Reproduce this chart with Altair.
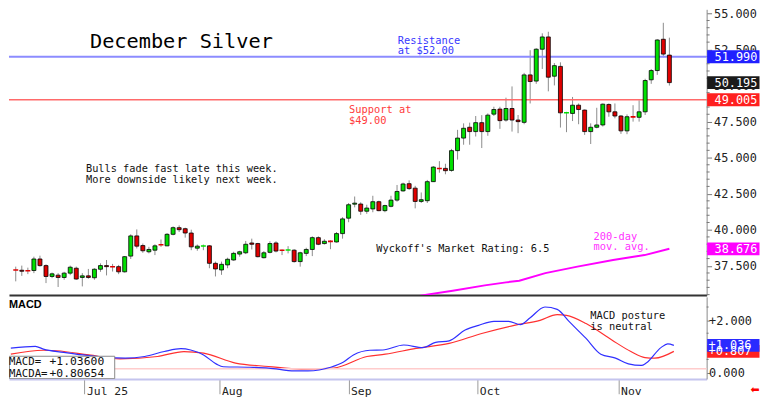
import json
import altair as alt
import pandas as pd

# ---------------- data ----------------
opens = [37.25, 37.19, 37.17, 37.17, 37.97, 37.51, 36.76, 36.85, 36.69, 36.99,
         37.33, 36.69, 36.80, 36.67, 37.26, 37.51, 37.45, 37.44, 37.08, 38.17,
         39.57, 38.90, 38.47, 38.58, 38.98, 38.88, 39.68, 40.14, 40.07, 39.77,
         38.72, 38.85, 38.88, 37.67, 37.21, 37.56, 37.90, 38.31, 38.40, 39.08,
         39.04, 38.06, 38.43, 39.08, 38.59, 38.57, 38.58, 37.79, 38.36, 38.63,
         39.45, 39.04, 39.21, 39.15, 39.73, 40.80, 41.77, 41.78, 41.28, 41.44,
         41.94, 41.32, 41.62, 42.05, 42.69, 43.19, 42.88, 41.96, 42.01, 43.33,
         44.26, 44.25, 44.11, 45.48, 46.35, 47.10, 46.80, 47.42, 46.80, 48.01,
         48.36, 47.60, 48.40, 47.60, 47.44, 50.73, 50.30, 52.51, 53.36, 50.64,
         51.32, 48.09, 48.06, 48.63, 48.29, 46.80, 47.10, 47.26, 48.68, 48.17,
         47.88, 46.85, 47.84, 47.79, 48.17, 50.39, 51.03, 53.20, 52.10]
highs = [37.44, 37.51, 37.37, 38.13, 38.20, 37.60, 37.03, 36.99, 37.08, 37.51,
         37.44, 36.99, 37.28, 37.33, 37.67, 37.90, 37.63, 37.56, 38.17, 39.68,
         40.02, 39.04, 38.81, 38.99, 39.32, 39.77, 40.23, 40.30, 40.14, 40.00,
         38.97, 38.97, 38.93, 37.79, 37.79, 38.06, 38.47, 38.54, 39.22, 39.38,
         39.09, 38.52, 39.20, 39.20, 38.63, 38.86, 38.65, 38.47, 38.75, 39.54,
         39.54, 39.34, 39.27, 39.84, 40.87, 41.85, 42.30, 41.90, 41.73, 42.35,
         42.01, 41.73, 42.35, 43.10, 43.26, 43.42, 43.04, 42.58, 43.45, 44.41,
         44.75, 44.57, 45.60, 46.92, 47.37, 47.42, 47.88, 47.94, 48.06, 48.52,
         48.52, 49.15, 49.93, 47.95, 50.87, 52.44, 52.58, 53.61, 53.72, 51.55,
         51.60, 48.17, 49.20, 48.75, 48.33, 47.37, 48.45, 48.75, 48.75, 48.75,
         47.95, 47.99, 48.63, 48.97, 50.46, 51.14, 53.20, 54.34, 53.31]
lows = [36.42, 36.80, 36.92, 36.99, 37.44, 36.30, 36.64, 36.03, 36.53, 36.85,
        36.53, 36.07, 36.60, 36.53, 37.08, 36.83, 37.10, 36.92, 37.03, 37.97,
        38.70, 38.40, 38.36, 38.24, 38.81, 38.86, 39.61, 39.84, 39.45, 38.58,
        38.54, 38.58, 37.33, 36.76, 36.87, 37.33, 37.85, 38.13, 38.31, 38.63,
        38.08, 38.01, 38.36, 38.43, 38.24, 38.36, 37.72, 37.44, 38.17, 38.17,
        38.93, 38.97, 38.65, 39.11, 39.38, 40.52, 41.55, 41.03, 41.10, 41.21,
        41.28, 41.21, 41.55, 41.94, 42.63, 42.76, 41.48, 41.85, 41.85, 43.31,
        43.95, 43.84, 44.02, 44.86, 45.89, 45.89, 46.46, 45.66, 46.51, 47.88,
        46.99, 47.49, 46.80, 46.69, 47.31, 48.75, 50.11, 51.14, 49.59, 50.00,
        47.08, 46.76, 47.53, 47.31, 46.57, 45.94, 47.03, 47.15, 47.83, 47.72,
        46.64, 46.62, 47.49, 47.49, 47.95, 50.11, 50.73, 51.94, 49.99]
closes = [37.21, 37.12, 37.15, 37.97, 37.51, 36.76, 36.94, 36.69, 36.99, 37.40,
          36.58, 36.80, 36.69, 37.26, 37.51, 37.44, 37.43, 37.08, 38.13, 39.57,
          38.86, 38.54, 38.63, 38.88, 38.96, 39.68, 40.14, 40.00, 39.77, 38.81,
          38.86, 38.87, 37.67, 37.28, 37.60, 37.95, 38.36, 38.47, 38.99, 38.99,
          38.13, 38.40, 39.04, 38.52, 38.57, 38.59, 37.79, 38.40, 38.63, 39.45,
          38.99, 39.20, 39.19, 39.73, 40.75, 41.73, 41.84, 41.28, 41.50, 41.94,
          41.32, 41.67, 42.05, 42.65, 43.17, 42.85, 41.96, 42.08, 43.33, 44.34,
          44.24, 44.09, 45.48, 46.35, 47.03, 46.80, 47.42, 46.80, 47.94, 48.33,
          47.56, 48.40, 47.60, 47.49, 50.73, 50.27, 52.51, 53.36, 50.57, 51.37,
          48.10, 48.11, 48.63, 48.33, 46.80, 47.10, 47.26, 48.70, 48.17, 47.88,
          46.85, 47.83, 47.82, 48.17, 50.34, 51.03, 53.15, 52.17, 50.195]

# 200-day moving average (candle position, price)
ma_pos = [66, 67.9, 72.2, 77.5, 81, 83.2, 87.5, 92.8, 98.7, 103.9, 108]
ma_val = [35.35, 35.50, 35.77, 36.14, 36.35, 36.46, 36.99, 37.44, 37.90, 38.24, 38.676]

# MACD (blue) and MACD average (red)
macd_pos = [0, 4, 5.3, 8.6, 11.7, 15.4, 18.6, 21.8, 25, 27.7,
            29.3, 31.4, 33.5, 34.6, 38.9, 42, 46.2, 48.4, 52.1, 54.2,
            55.8, 58.5, 60.6, 64, 67.1, 69.2, 71.4, 74, 76.2, 78.7,
            81.1, 83, 84.6, 87, 89, 91, 93.7, 96.1, 98.5, 100.6,
            102.7, 103.5, 105.9, 107, 108]
macd_val = [0.93, 1.00, 0.89, 0.77, 0.67, 0.58, 0.55, 0.61, 0.80, 0.91,
            0.86, 0.67, 0.32, 0.22, 0.20, 0.17, 0.06, 0.06, 0.20, 0.40,
            0.67, 0.85, 0.86, 1.05, 0.95, 1.15, 1.21, 1.62, 1.80, 1.95,
            1.95, 1.83, 2.09, 2.50, 2.41, 1.93, 1.30, 0.70, 0.55, 0.33,
            0.27, 0.36, 0.95, 1.09, 1.036]
sig_pos = [0, 5.3, 7.5, 12.7, 17.8, 23.9, 28.2, 31.4, 36.6, 42,
           47.3, 52.6, 58, 61, 66, 71.4, 76.7, 82, 86.2, 89,
           90.5, 93.7, 97.9, 101, 103.3, 104.9, 108]
sig_val = [0.70, 0.85, 0.83, 0.67, 0.52, 0.61, 0.80, 0.74, 0.36, 0.23,
           0.13, 0.17, 0.61, 0.70, 0.92, 1.11, 1.49, 1.80, 1.99, 2.21,
           2.18, 1.87, 1.24, 0.80, 0.57, 0.55, 0.807]

resistance = 51.99
support = 49.005
last_close = 50.195
ma_last = 38.676
macd_last = 1.036
macda_last = 0.807
macd_legend = "+1.03600"
macda_legend = "+0.80654"
macd_ref = 0.14

price_ticks = [37.5, 40.0, 42.5, 45.0, 47.5, 50.0, 52.5, 55.0]
price_minor = [35.5, 36.0, 36.5, 37.0, 38.0, 38.5, 39.0, 39.5, 40.5, 41.0, 41.5,
               42.0, 43.0, 43.5, 44.0, 44.5, 45.5, 46.0, 46.5, 47.0, 48.0, 48.5,
               49.0, 49.5, 50.5, 51.0, 51.5, 52.0, 53.0, 53.5, 54.0, 54.5]
macd_ticks = [0.0, 1.0, 2.0]
macd_minor = [0.5, 1.5, 2.5]
month_pos = [12, 34, 55, 76, 99]
month_labels = ["Jul 25", "Aug", "Sep", "Oct", "Nov"]

# ---------------- layout ----------------
W = 706
H1 = 289
H2 = 83
MONO = "DejaVu Sans Mono"

candles = pd.DataFrame({"i": range(len(opens)), "o": opens, "h": highs,
                        "l": lows, "c": closes})
candles["dir"] = ["up" if c >= o else "down" for o, c in zip(opens, closes)]
candles["body"] = (candles["c"] - candles["o"]).abs()

xs = alt.Scale(domain=[-0.3, 113.34], nice=False, zero=False)
ys = alt.Scale(domain=[35.48, 55.274], nice=False, zero=False)
ms = alt.Scale(domain=[-0.245, 2.887], nice=False, zero=False)
dir_color = alt.Color("dir:N", scale=alt.Scale(domain=["up", "down"],
                                               range=["#00e000", "#e00000"]),
                      legend=None)

# identical axis objects are given to every layer so that they merge cleanly
px_axis = alt.Axis(labels=False, ticks=False, grid=False, domainColor="#333333",
                   domainWidth=2, title=None)
py_axis = alt.Axis(orient="right", values=price_ticks, format=".3f", labelFont=MONO,
                   labelFontSize=12, labelColor="#222222", tickSize=5,
                   tickColor="#777777", domainColor="#888888", grid=False,
                   labelPadding=2, title=None)
month_expr = "{}[indexof({}, datum.value)]".format(json.dumps(month_labels),
                                                   json.dumps(month_pos))
mx_axis = alt.Axis(values=month_pos, labelExpr=month_expr, tickSize=15,
                   tickColor="#999999", labelAlign="left", labelOffset=2,
                   labelPadding=1, labelBaseline="alphabetic", labelFont=MONO,
                   labelFontSize=11.5, labelColor="#222222", domainColor="#c4c4ee",
                   domainWidth=2, grid=False, title=None)
my_axis = alt.Axis(orient="right", values=macd_ticks,
                   labelExpr="datum.value > 0 ? '+' + format(datum.value, '.3f') : format(datum.value, '.3f')",
                   labelFont=MONO, labelFontSize=12, labelColor="#222222", tickSize=3,
                   tickColor="#777777", domainColor="#888888", grid=False,
                   labelPadding=-1, title=None)

PANELS = {"p": (ys, px_axis, py_axis), "m": (ms, mx_axis, my_axis)}
one = pd.DataFrame({"k": [0]})


def X(field, panel):
    return alt.X(field, scale=xs, axis=PANELS[panel][1])


def Y(field, panel):
    return alt.Y(field, scale=PANELS[panel][0], axis=PANELS[panel][2])


def note(txt, xi, yv, panel, color, size=10.5, font=MONO, weight="normal"):
    sc, xa, ya = PANELS[panel]
    return alt.Chart(one).mark_text(
        text=txt, align="left", baseline="alphabetic", font=font,
        fontSize=size, color=color, fontWeight=weight
    ).encode(x=alt.XDatum(xi, scale=xs, axis=xa),
             y=alt.YDatum(yv, scale=sc, axis=ya))


# ---- price panel ----
wicks = alt.Chart(candles).mark_rule(color="#8a8a8a", strokeWidth=1, clip=True).encode(
    x=X("i:Q", "p"), y=Y("l:Q", "p"), y2="h:Q")
bodies = alt.Chart(candles).transform_filter("datum.body >= 0.05").mark_bar(
    width=4, stroke="black", strokeWidth=0.8, clip=True).encode(
    x=X("i:Q", "p"), y=Y("o:Q", "p"), y2="c:Q", color=dir_color)
dojis = alt.Chart(candles).transform_filter("datum.body < 0.05").mark_tick(
    orient="horizontal", size=5, thickness=1.6, opacity=1, clip=True).encode(
    x=X("i:Q", "p"), y=Y("c:Q", "p"), color=dir_color)

res_rule = alt.Chart(one).mark_rule(color="#8c8cff", strokeWidth=2).encode(
    y=alt.YDatum(resistance, scale=ys, axis=py_axis))
sup_rule = alt.Chart(one).mark_rule(color="#ff6a6a", strokeWidth=1.5).encode(
    y=alt.YDatum(support, scale=ys, axis=py_axis))

ma_df = pd.DataFrame({"i": ma_pos, "v": ma_val})
ma_line = alt.Chart(ma_df).mark_line(color="#ff00ff", strokeWidth=2, clip=True).encode(
    x=X("i:Q", "p"), y=Y("v:Q", "p"))

pminor = alt.Chart(pd.DataFrame({"t": price_minor})).mark_rule(
    color="#777777", strokeWidth=1).encode(
    x=alt.value(W), x2=alt.value(W + 3), y=Y("t:Q", "p"))

pbox_df = pd.DataFrame({
    "v": [ma_last, support, last_close, resistance],
    "label": [f"{ma_last:.3f}", f"{support:.3f}", f"{last_close:.3f}", f"{resistance:.3f}"],
    "fill": ["#ff00ff", "#ff2020", "#1a1a1a", "#2020ff"],
    "order": [0, 1, 2, 3],
})
pboxes = alt.Chart(pbox_df).mark_tick(orient="horizontal", size=53, thickness=13,
                                      opacity=1).encode(
    x=alt.value(W + 27), y=Y("v:Q", "p"),
    color=alt.Color("fill:N", scale=None), order="order:Q")
ptexts = alt.Chart(pbox_df).mark_text(align="left", baseline="middle", font=MONO,
                                      fontSize=12, color="white").encode(
    x=alt.value(W + 8), y=Y("v:Q", "p"), text="label:N")

price = alt.layer(
    wicks, sup_rule, res_rule, ma_line, bodies, dojis, pminor, pboxes, ptexts,
    note("December Silver", 12.26, 52.60, "p", "#000000", size=20.5),
    note("Resistance", 63.12, 52.88, "p", "#3838ff"),
    note("at $52.00", 63.12, 52.16, "p", "#3838ff"),
    note("Support at", 55.07, 48.08, "p", "#ff3b3b"),
    note("$49.00", 55.07, 47.33, "p", "#ff3b3b"),
    note("Bulls fade fast late this week.", 11.61, 43.97, "p", "#111111", size=10.4),
    note("More downside likely next week.", 11.61, 43.22, "p", "#111111", size=10.4),
    note("Wyckoff's Market Rating: 6.5", 59.58, 38.42, "p", "#111111", size=10.4),
    note("200-day", 95.47, 39.32, "p", "#ff33ff"),
    note("mov. avg.", 95.47, 38.56, "p", "#ff33ff"),
).properties(width=W, height=H1)

# ---- MACD panel ----
macd_df = pd.DataFrame({"i": macd_pos, "v": macd_val})
sig_df = pd.DataFrame({"i": sig_pos, "v": sig_val})

sig_line = alt.Chart(sig_df).mark_line(color="#ff3030", strokeWidth=1.2,
                                       interpolate="monotone").encode(
    x=X("i:Q", "m"), y=Y("v:Q", "m"))
ref_rule = alt.Chart(one).mark_rule(color="#ffcccc", strokeWidth=1.5).encode(
    y=alt.YDatum(macd_ref, scale=ms, axis=my_axis))
macd_line = alt.Chart(macd_df).mark_line(color="#3030ff", strokeWidth=1.2,
                                         interpolate="monotone").encode(
    x=X("i:Q", "m"), y=Y("v:Q", "m"))

mminor = alt.Chart(pd.DataFrame({"t": macd_minor})).mark_rule(
    color="#777777", strokeWidth=1).encode(
    x=alt.value(W), x2=alt.value(W + 2), y=Y("t:Q", "m"))

legend_box = alt.Chart(one).mark_rect(fill="white", stroke="#888888", strokeWidth=1,
                                      clip=True).encode(
    x=alt.XDatum(-0.22, scale=xs, axis=mx_axis), x2=alt.X2Datum(16.92),
    y=alt.YDatum(0.62, scale=ms, axis=my_axis), y2=alt.Y2Datum(-0.235))

mbox_df = pd.DataFrame({
    "v": [macda_last, macd_last],
    "label": [f"+{macda_last:.3f}", f"+{macd_last:.3f}"],
    "fill": ["#ff2020", "#2a2aff"],
    "order": [0, 1],
})
mboxes = alt.Chart(mbox_df).mark_tick(orient="horizontal", size=53, thickness=13,
                                      opacity=1).encode(
    x=alt.value(W + 27), y=Y("v:Q", "m"),
    color=alt.Color("fill:N", scale=None), order="order:Q")
mtexts = alt.Chart(mbox_df).mark_text(align="left", baseline="middle", font=MONO,
                                      fontSize=12, color="white").encode(
    x=alt.value(W + 2), y=Y("v:Q", "m"), text="label:N", order="order:Q")

arrow = alt.Chart(one).mark_text(text="\u2b05", color="#ff0000", fontSize=11,
                                 font="DejaVu Sans").encode(
    x=alt.value(W + 49), y=alt.value(H2 + 11))

macd = alt.layer(
    sig_line, ref_rule, macd_line, mminor, legend_box, mboxes, mtexts, arrow,
    note("MACD", -0.3, 2.47, "m", "#000000", size=11, font="Liberation Sans",
         weight="bold"),
    note("MACD posture", 94.4, 2.06, "m", "#111111"),
    note("is neutral", 94.4, 1.64, "m", "#111111"),
    note("MACD=", -0.3, 0.283, "m", "#111111", size=10.8),
    note("MACDA=", -0.3, -0.17, "m", "#111111", size=10.8),
    note(macd_legend, 6.3, 0.283, "m", "#111111", size=11.5),
    note(macda_legend, 6.3, -0.17, "m", "#111111", size=11.5),
).properties(width=W, height=H2)

chart = alt.vconcat(price, macd, spacing=1).properties(
    padding={"left": 0, "top": -3, "right": 0, "bottom": 0},
    background="white",
).configure_view(stroke=None)

chart.save("out.html", embed_options={"renderer": "svg", "actions": False})
